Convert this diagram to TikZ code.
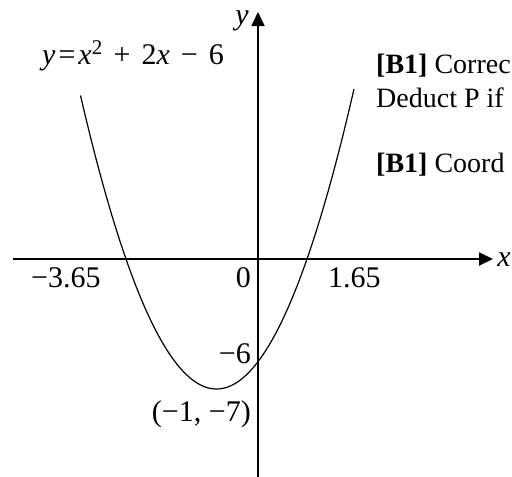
\documentclass[tikz,border=0pt]{standalone}
\usepackage{fontspec}
\setmainfont{Liberation Serif}
\usetikzlibrary{arrows.meta}
\begin{document}
\begin{tikzpicture}[x=1pt,y=-1pt,
  axis/.style={line width=1.8pt,-{Triangle[length=14pt,width=13pt]}},
  curve/.style={line width=1.2pt},
  lbl/.style={inner sep=0pt,font=\fontsize{30}{36}\selectfont},
  note/.style={inner sep=0pt,font=\fontsize{28}{34}\selectfont},
]
\useasboundingbox (0,0) rectangle (512,477);
% axes
\coordinate (xl) at (13,259);
\coordinate (xr) at (493,259);
\coordinate (yb) at (258,477);
\coordinate (yt) at (258,12);
\draw[axis] (xl) -- (xr);
\draw[axis] (yb) -- (yt);
% parabola
\draw[curve,domain=80.5:354,samples=120] plot (\x,{389-0.01587*(\x-216.5)*(\x-216.5)});
% axis labels
\node[lbl,anchor=base east] (xlab) at (511,266) {\itshape x};
\node[lbl,anchor=base east] (ylab) at (249,24) {\itshape y};
% equation
\node[lbl,anchor=base west] (eq) at (42,64) {\itshape y\kern3pt\upshape=\kern3pt\itshape x\upshape\textsuperscript{2}\hspace{11pt}+\hspace{11pt}2\itshape x\upshape\hspace{11pt}−\hspace{11pt}6};
% x-axis values
\node[lbl,anchor=base west] (r1) at (31,287) {−3.65};
\node[lbl,anchor=base east] (o) at (251,287) {0};
\node[lbl,anchor=base west] (r2) at (328,287) {1.65};
% y-intercept and vertex
\node[lbl,anchor=base east] (yi) at (251,363) {−6};
\node[lbl,anchor=base east] (vx) at (251,421) {(−1, −7)};
% mark scheme notes
\node[note,anchor=base west] (n1) at (376,73) {\textbf{[B1]} Correc};
\node[note,anchor=base west] (n2) at (376,107) {Deduct P if};
\node[note,anchor=base west] (n3) at (376,172) {\textbf{[B1]} Coord};
\end{tikzpicture}
\end{document}
